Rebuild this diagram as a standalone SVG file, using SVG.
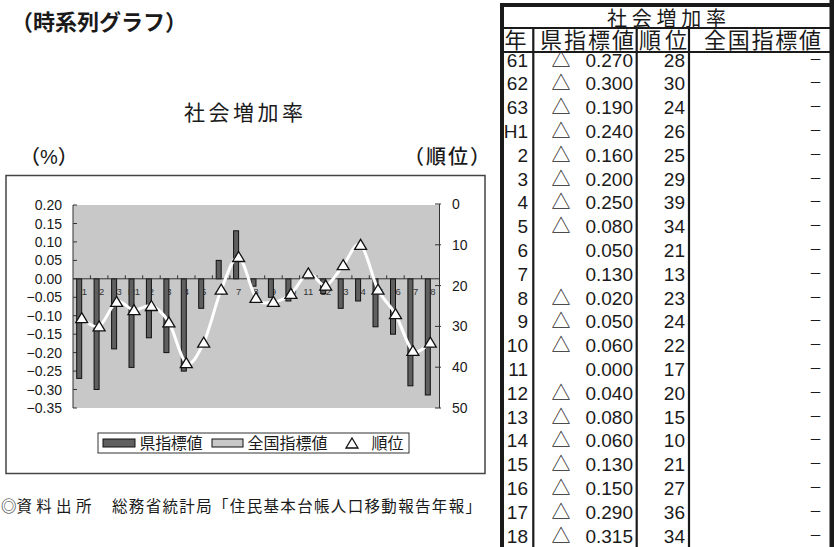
<svg xmlns="http://www.w3.org/2000/svg" width="834" height="547" viewBox="0 0 834 547">
<style>
.j{font-family:"Noto Sans CJK JP",sans-serif;fill:#1a1a1a}
.l{font-family:"Liberation Sans","Noto Sans CJK JP",sans-serif;fill:#1a1a1a}
.ax{font-family:"Liberation Sans",sans-serif;font-size:14px;fill:#1a1a1a}
.axr{text-anchor:end}
.cat{font-family:"Liberation Sans",sans-serif;font-size:9.5px;fill:#333;text-anchor:middle}
.bar{fill:#5f5f5f;stroke:#111;stroke-width:1}
.tk{stroke:#333;stroke-width:1;fill:none}
.n{font-family:"Liberation Sans",sans-serif;font-size:19px;fill:#1a1a1a;text-anchor:end}
.tri{font-family:"Noto Sans CJK JP",sans-serif;font-size:19px;fill:#1a1a1a;text-anchor:middle}
.d{font-family:"Noto Sans CJK JP",sans-serif;font-size:13px;fill:#1a1a1a;text-anchor:end}
.tl{stroke:#1a1a1a;stroke-width:2.2}
</style>
<defs>
<path id="mk" d="M0,-5.5 L6,4.5 L-6,4.5 Z" fill="#fff" stroke="#111" stroke-width="1.3"/>
</defs>

<g id="title">
<text class="j" x="11" y="30" font-size="22" font-weight="bold">（時系列グラフ）</text>
<text class="j" x="184" y="120" font-size="21" textLength="119" lengthAdjust="spacing">社会増加率</text>
<text class="l" x="20" y="164" font-size="20" font-weight="500">（%）</text>
<text class="j" x="404" y="164" font-size="20" font-weight="500" textLength="86" lengthAdjust="spacing">（順位）</text>
</g>

<g id="chart">
<rect x="6" y="175.5" width="479" height="298" fill="#fff" stroke="#444" stroke-width="1.5"/>
<rect x="73" y="205" width="366.5" height="203" fill="#c8c8c8"/>
<g id="left-axis">
<line class="tk" x1="73" y1="205" x2="73" y2="408"/>
<path class="tk" d="M73,205h4M73,223.5h4M73,241.9h4M73,260.4h4M73,278.8h4M73,297.3h4M73,315.7h4M73,334.2h4M73,352.6h4M73,371.1h4M73,389.5h4M73,408h4"/>
<text class="ax axr" x="62" y="210">0.20</text>
<text class="ax axr" x="62" y="228.5">0.15</text>
<text class="ax axr" x="62" y="246.9">0.10</text>
<text class="ax axr" x="62" y="265.4">0.05</text>
<text class="ax axr" x="62" y="283.8">0.00</text>
<text class="ax axr" x="62" y="302.3">−0.05</text>
<text class="ax axr" x="62" y="320.7">−0.10</text>
<text class="ax axr" x="62" y="339.2">−0.15</text>
<text class="ax axr" x="62" y="357.6">−0.20</text>
<text class="ax axr" x="62" y="376.1">−0.25</text>
<text class="ax axr" x="62" y="394.5">−0.30</text>
<text class="ax axr" x="62" y="413">−0.35</text>
</g>
<g id="right-axis">
<line class="tk" x1="439.5" y1="204" x2="439.5" y2="408"/>
<path class="tk" d="M435,204h6M435,244.8h6M435,285.6h6M435,326.4h6M435,367.2h6M435,408h6"/>
<text class="ax" x="452" y="209">0</text>
<text class="ax" x="452" y="249.8">10</text>
<text class="ax" x="452" y="290.6">20</text>
<text class="ax" x="452" y="331.4">30</text>
<text class="ax" x="452" y="372.2">40</text>
<text class="ax" x="452" y="413">50</text>
</g>
<g id="cat-labels">
<text class="cat" x="81.7" y="295">61</text>
<text class="cat" x="99.1" y="295">62</text>
<text class="cat" x="116.6" y="295">63</text>
<text class="cat" x="134" y="295">H1</text>
<text class="cat" x="151.4" y="295">2</text>
<text class="cat" x="168.9" y="295">3</text>
<text class="cat" x="186.3" y="295">4</text>
<text class="cat" x="203.7" y="295">5</text>
<text class="cat" x="221.2" y="295">6</text>
<text class="cat" x="238.6" y="295">7</text>
<text class="cat" x="256" y="295">8</text>
<text class="cat" x="273.4" y="295">9</text>
<text class="cat" x="290.9" y="295">10</text>
<text class="cat" x="308.3" y="295">11</text>
<text class="cat" x="325.7" y="295">12</text>
<text class="cat" x="343.2" y="295">13</text>
<text class="cat" x="360.6" y="295">14</text>
<text class="cat" x="378" y="295">15</text>
<text class="cat" x="395.5" y="295">16</text>
<text class="cat" x="412.9" y="295">17</text>
<text class="cat" x="430.3" y="295">18</text>
</g>
<g id="bars">
<rect class="bar" x="76.7" y="278.8" width="5" height="99.6"/>
<rect class="bar" x="94.1" y="278.8" width="5" height="110.7"/>
<rect class="bar" x="111.6" y="278.8" width="5" height="70.1"/>
<rect class="bar" x="129" y="278.8" width="5" height="88.6"/>
<rect class="bar" x="146.4" y="278.8" width="5" height="59"/>
<rect class="bar" x="163.9" y="278.8" width="5" height="73.8"/>
<rect class="bar" x="181.3" y="278.8" width="5" height="92.3"/>
<rect class="bar" x="198.7" y="278.8" width="5" height="29.5"/>
<rect class="bar" x="216.2" y="260.4" width="5" height="18.4"/>
<rect class="bar" x="233.6" y="230.8" width="5" height="48"/>
<rect class="bar" x="251" y="278.8" width="5" height="7.4"/>
<rect class="bar" x="268.4" y="278.8" width="5" height="18.5"/>
<rect class="bar" x="285.9" y="278.8" width="5" height="22.2"/>
<rect class="bar" x="320.7" y="278.8" width="5" height="14.8"/>
<rect class="bar" x="338.2" y="278.8" width="5" height="29.5"/>
<rect class="bar" x="355.6" y="278.8" width="5" height="22.2"/>
<rect class="bar" x="373" y="278.8" width="5" height="48"/>
<rect class="bar" x="390.5" y="278.8" width="5" height="55.4"/>
<rect class="bar" x="407.9" y="278.8" width="5" height="107"/>
<rect class="bar" x="425.3" y="278.8" width="5" height="116.2"/>
</g>
<g id="cat-axis">
<line class="tk" x1="73" y1="278.8" x2="439.5" y2="278.8"/>
<path class="tk" d="M90.4,278.8v-3.5M107.9,278.8v-3.5M125.3,278.8v-3.5M142.7,278.8v-3.5M160.2,278.8v-3.5M177.6,278.8v-3.5M195,278.8v-3.5M212.4,278.8v-3.5M229.9,278.8v-3.5M247.3,278.8v-3.5M264.7,278.8v-3.5M282.2,278.8v-3.5M299.6,278.8v-3.5M317,278.8v-3.5M334.5,278.8v-3.5M351.9,278.8v-3.5M369.3,278.8v-3.5M386.7,278.8v-3.5M404.2,278.8v-3.5M421.6,278.8v-3.5"/>
</g>
<g id="rank-line">
<path fill="none" stroke="#fff" stroke-width="3" d="M81.7,318.2 C84.6,319.6 93.3,329.1 99.1,326.4 C104.9,323.7 110.8,304.6 116.6,301.9 C122.4,299.2 128.2,309.4 134,310.1 C139.8,310.8 145.6,304 151.4,306 C157.2,308 163.1,312.8 168.9,322.3 C174.7,331.8 180.5,359.7 186.3,363.1 C192.1,366.5 197.9,354.9 203.7,342.7 C209.5,330.5 215.4,304 221.2,289.7 C227,275.4 232.8,255.6 238.6,257 C244.4,258.4 250.2,290.3 256,297.8 C261.8,305.3 267.6,302.6 273.4,301.9 C279.2,301.2 285.1,298.6 290.9,293.8 C296.7,289 302.5,274.8 308.3,273.4 C314.1,272 319.9,287 325.7,285.6 C331.5,284.2 337.4,272 343.2,265.2 C349,258.4 354.8,240.7 360.6,244.8 C366.4,248.9 372.2,278.1 378,289.7 C383.8,301.3 389.7,304 395.5,314.2 C401.3,324.4 407.1,346.2 412.9,350.9 C418.7,355.6 427.4,344.1 430.3,342.7"/>
<use href="#mk" x="81.7" y="318.2"/>
<use href="#mk" x="99.1" y="326.4"/>
<use href="#mk" x="116.6" y="301.9"/>
<use href="#mk" x="134" y="310.1"/>
<use href="#mk" x="151.4" y="306"/>
<use href="#mk" x="168.9" y="322.3"/>
<use href="#mk" x="186.3" y="363.1"/>
<use href="#mk" x="203.7" y="342.7"/>
<use href="#mk" x="221.2" y="289.7"/>
<use href="#mk" x="238.6" y="257"/>
<use href="#mk" x="256" y="297.8"/>
<use href="#mk" x="273.4" y="301.9"/>
<use href="#mk" x="290.9" y="293.8"/>
<use href="#mk" x="308.3" y="273.4"/>
<use href="#mk" x="325.7" y="285.6"/>
<use href="#mk" x="343.2" y="265.2"/>
<use href="#mk" x="360.6" y="244.8"/>
<use href="#mk" x="378" y="289.7"/>
<use href="#mk" x="395.5" y="314.2"/>
<use href="#mk" x="412.9" y="350.9"/>
<use href="#mk" x="430.3" y="342.7"/>
</g>
<g id="legend">
<rect x="98" y="433" width="311" height="20" fill="#fff" stroke="#333" stroke-width="1"/>
<rect x="103" y="439" width="32" height="8" fill="#5f5f5f" stroke="#111" stroke-width="1"/>
<text class="j" x="139.5" y="448.5" font-size="16" textLength="63" lengthAdjust="spacing">県指標値</text>
<rect x="212" y="439" width="31" height="8" fill="#c8c8c8" stroke="#111" stroke-width="1"/>
<text class="j" x="247.5" y="448.5" font-size="16" textLength="80" lengthAdjust="spacing">全国指標値</text>
<use href="#mk" x="352" y="443.5"/>
<text class="j" x="371.5" y="448.5" font-size="16" textLength="32" lengthAdjust="spacing">順位</text>
</g>
</g>

<g id="source">
<text class="l" x="1" y="512" font-size="15.5">◎資 料 出 所</text>
<text class="j" x="112" y="512" font-size="15.5" textLength="369" lengthAdjust="spacing">総務省統計局「住民基本台帳人口移動報告年報」</text>
</g>

<g id="table">
<g id="table-lines" fill="#1a1a1a">
<rect x="500" y="3" width="334" height="4"/>
<rect x="500" y="3" width="4" height="544"/>
<rect x="829.5" y="0" width="4.5" height="547"/>
<line class="tl" x1="504" y1="28" x2="830" y2="28"/>
<line class="tl" x1="504" y1="52" x2="830" y2="52"/>
<line class="tl" x1="533.3" y1="28" x2="533.3" y2="547"/>
<line class="tl" x1="636.7" y1="28" x2="636.7" y2="547"/>
<line class="tl" x1="689" y1="28" x2="689" y2="547"/>
</g>
<g id="table-head">
<text class="j" x="607" y="26" font-size="20" textLength="119" lengthAdjust="spacing">社会増加率</text>
<text class="j" x="504.5" y="48" font-size="22">年</text>
<text class="j" x="540" y="48" font-size="22" textLength="94" lengthAdjust="spacing">県指標値</text>
<text class="j" x="639" y="48" font-size="22" textLength="48" lengthAdjust="spacing">順位</text>
<text class="j" x="704" y="48" font-size="22" textLength="117" lengthAdjust="spacing">全国指標値</text>
</g>
<g id="table-rows">
<g transform="translate(0,66.5)"><text class="n" x="528">61</text><text class="tri" x="561">△</text><text class="n" x="633">0.270</text><text class="n" x="685">28</text><text class="d" x="822" y="-3">－</text></g>
<g transform="translate(0,90.3)"><text class="n" x="528">62</text><text class="tri" x="561">△</text><text class="n" x="633">0.300</text><text class="n" x="685">30</text><text class="d" x="822" y="-3">－</text></g>
<g transform="translate(0,114.1)"><text class="n" x="528">63</text><text class="tri" x="561">△</text><text class="n" x="633">0.190</text><text class="n" x="685">24</text><text class="d" x="822" y="-3">－</text></g>
<g transform="translate(0,137.9)"><text class="n" x="528">H1</text><text class="tri" x="561">△</text><text class="n" x="633">0.240</text><text class="n" x="685">26</text><text class="d" x="822" y="-3">－</text></g>
<g transform="translate(0,161.7)"><text class="n" x="528">2</text><text class="tri" x="561">△</text><text class="n" x="633">0.160</text><text class="n" x="685">25</text><text class="d" x="822" y="-3">－</text></g>
<g transform="translate(0,185.5)"><text class="n" x="528">3</text><text class="tri" x="561">△</text><text class="n" x="633">0.200</text><text class="n" x="685">29</text><text class="d" x="822" y="-3">－</text></g>
<g transform="translate(0,209.3)"><text class="n" x="528">4</text><text class="tri" x="561">△</text><text class="n" x="633">0.250</text><text class="n" x="685">39</text><text class="d" x="822" y="-3">－</text></g>
<g transform="translate(0,233.1)"><text class="n" x="528">5</text><text class="tri" x="561">△</text><text class="n" x="633">0.080</text><text class="n" x="685">34</text><text class="d" x="822" y="-3">－</text></g>
<g transform="translate(0,256.9)"><text class="n" x="528">6</text><text class="n" x="633">0.050</text><text class="n" x="685">21</text><text class="d" x="822" y="-3">－</text></g>
<g transform="translate(0,280.7)"><text class="n" x="528">7</text><text class="n" x="633">0.130</text><text class="n" x="685">13</text><text class="d" x="822" y="-3">－</text></g>
<g transform="translate(0,304.5)"><text class="n" x="528">8</text><text class="tri" x="561">△</text><text class="n" x="633">0.020</text><text class="n" x="685">23</text><text class="d" x="822" y="-3">－</text></g>
<g transform="translate(0,328.3)"><text class="n" x="528">9</text><text class="tri" x="561">△</text><text class="n" x="633">0.050</text><text class="n" x="685">24</text><text class="d" x="822" y="-3">－</text></g>
<g transform="translate(0,352.1)"><text class="n" x="528">10</text><text class="tri" x="561">△</text><text class="n" x="633">0.060</text><text class="n" x="685">22</text><text class="d" x="822" y="-3">－</text></g>
<g transform="translate(0,375.9)"><text class="n" x="528">11</text><text class="n" x="633">0.000</text><text class="n" x="685">17</text><text class="d" x="822" y="-3">－</text></g>
<g transform="translate(0,399.7)"><text class="n" x="528">12</text><text class="tri" x="561">△</text><text class="n" x="633">0.040</text><text class="n" x="685">20</text><text class="d" x="822" y="-3">－</text></g>
<g transform="translate(0,423.5)"><text class="n" x="528">13</text><text class="tri" x="561">△</text><text class="n" x="633">0.080</text><text class="n" x="685">15</text><text class="d" x="822" y="-3">－</text></g>
<g transform="translate(0,447.3)"><text class="n" x="528">14</text><text class="tri" x="561">△</text><text class="n" x="633">0.060</text><text class="n" x="685">10</text><text class="d" x="822" y="-3">－</text></g>
<g transform="translate(0,471.1)"><text class="n" x="528">15</text><text class="tri" x="561">△</text><text class="n" x="633">0.130</text><text class="n" x="685">21</text><text class="d" x="822" y="-3">－</text></g>
<g transform="translate(0,494.9)"><text class="n" x="528">16</text><text class="tri" x="561">△</text><text class="n" x="633">0.150</text><text class="n" x="685">27</text><text class="d" x="822" y="-3">－</text></g>
<g transform="translate(0,518.7)"><text class="n" x="528">17</text><text class="tri" x="561">△</text><text class="n" x="633">0.290</text><text class="n" x="685">36</text><text class="d" x="822" y="-3">－</text></g>
<g transform="translate(0,542.5)"><text class="n" x="528">18</text><text class="tri" x="561">△</text><text class="n" x="633">0.315</text><text class="n" x="685">34</text><text class="d" x="822" y="-3">－</text></g>
</g>
</g>
</svg>
